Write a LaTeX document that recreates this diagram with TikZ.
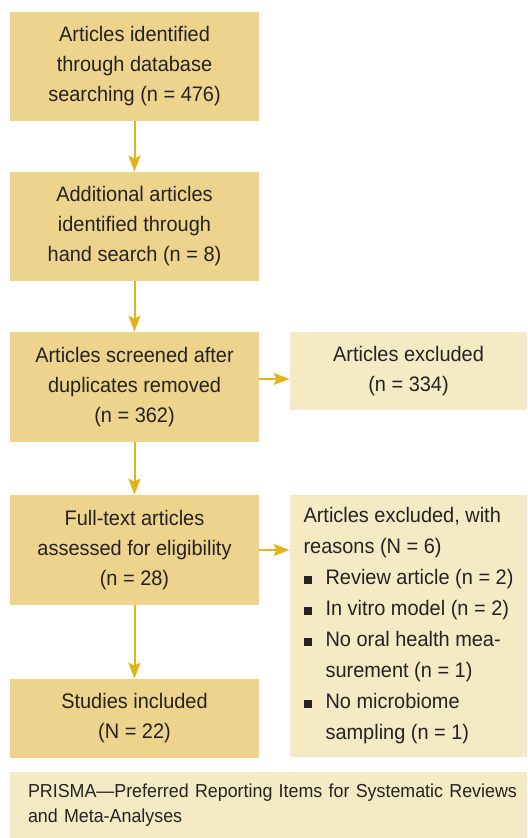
\documentclass[tikz,border=0pt]{standalone}
\usepackage{fontspec}
\setmainfont{Liberation Sans}[FakeStretch=0.95]
\usepackage{xcolor}
\usetikzlibrary{arrows.meta,calc,positioning}
\definecolor{boxgold}{RGB}{237,211,139}
\definecolor{boxpale}{RGB}{244,235,196}
\definecolor{arrowgold}{RGB}{226,180,24}
\definecolor{textgray}{RGB}{38,34,34}
\tikzset{
	mainbox/.style={fill=boxgold, text=textgray, align=center, minimum width=124.5pt,
			inner sep=0pt, font=\fontsize{10.5}{15}\selectfont},
	sidebox/.style={fill=boxpale, text=textgray, minimum width=118.5pt,
			inner sep=0pt, font=\fontsize{10.5}{15}\selectfont},
	flow/.style={-{Stealth[length=8pt,width=6pt,inset=1.5pt]}, arrowgold, line width=1pt}
}
\newcommand{\bul}{\makebox[11pt][l]{\rule[0.3pt]{4pt}{4pt}}}
\newcommand{\cont}{\hspace*{11pt}}

\begin{document}
\begin{tikzpicture}[x=0.5pt,y=-0.5pt]
	\useasboundingbox (0,0) rectangle (527,838);
	% main column
	\node[mainbox, minimum height=54.5pt] (ident) at (134.5,66.5)
		{Articles identified\\through database\\searching (n = 476)};
	\node[mainbox, minimum height=54.5pt] (hand) at (134.5,226.5)
		{Additional articles\\identified through\\hand search (n = 8)};
	\node[mainbox, minimum height=55pt] (screen) at (134.5,387)
		{Articles screened after\\duplicates removed\\(n = 362)};
	\node[mainbox, minimum height=55pt] (full) at (134.5,550)
		{Full-text articles\\assessed for eligibility\\(n = 28)};
	\node[mainbox, minimum height=39.5pt] (incl) at (134.5,718.5)
		{Studies included\\(N = 22)};
	% exclusions
	\node[sidebox, align=left, minimum height=39pt, align=center] (excl) at (408.5,371)
		{Articles excluded\\(n = 334)};
	\node[sidebox, align=left, minimum height=131pt, font=\fontsize{10.5}{15.5}\selectfont] (reasons) at (408.5,626)
		{Articles excluded, with\\reasons (N = 6)\\
		\bul Review article (n = 2)\\
		\bul In vitro model (n = 2)\\
		\bul No oral health mea-\\\cont surement (n = 1)\\
		\bul No microbiome\\\cont sampling (n = 1)};
	\node[fill=boxpale, text=textgray, align=left, text width=240.5pt, inner xsep=9pt,
		minimum height=33pt, font=\fontsize{9.4}{12.5}\selectfont] (note) at (268.5,805)
		{\mbox{PRISMA---Preferred Reporting Items for Systematic Reviews}\\and Meta-Analyses};

	\draw[flow] (ident) -- (hand);
	\draw[flow] (hand) -- (screen);
	\draw[flow] (screen) -- (full);
	\draw[flow] (full) -- (incl);
	\coordinate (mid) at ($(screen.east)!.5!(excl.west)$);
	\draw[flow] (screen.east |- mid) -- (excl.west |- mid);
	\draw[flow] (full.east) -- (full.east -| reasons.west);
\end{tikzpicture}
\end{document}
